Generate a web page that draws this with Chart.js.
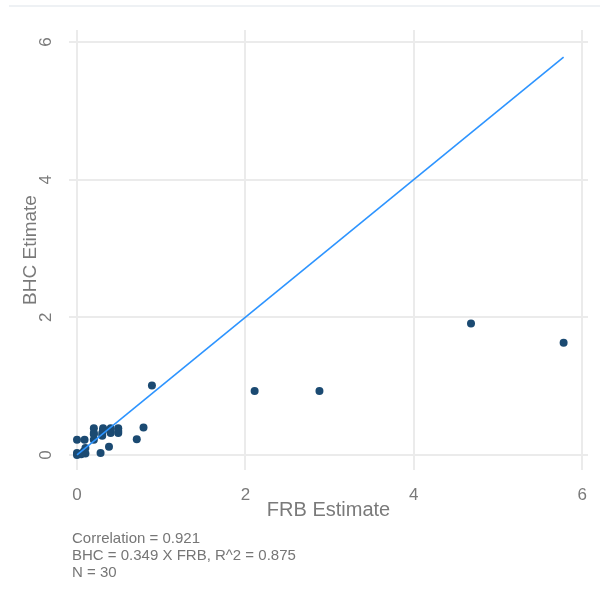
<!DOCTYPE html>
<html>
<head>
<meta charset="utf-8">
<script src="https://cdn.jsdelivr.net/npm/chart.js@4/dist/chart.umd.min.js"></script>
<style>
    body { margin: 0; background: #fff; }
    #wrap { position: relative; width: 602px; height: 601px; }
    #topRule { position: absolute; left: 9px; right: 2px; top: 5px; border-top: 2px solid #eef1f4; }
    #caption {
        position: absolute; left: 72px; top: 529px;
        font-family: "Liberation Sans", Arial, sans-serif;
        font-size: 15px; line-height: 17px; color: #767676;
    }
</style>
</head>
<body>
<div id="wrap">
    <div id="topRule"></div>
    <canvas id="scatterChart"></canvas>
    <div id="caption"></div>
</div>
<script>
'use strict'

// data
const frbValues = [5.78, 4.68, 2.88, 2.11, 0.89, 0.79, 0.71, 0.49, 0.49, 0.40,
                   0.38, 0.31, 0.30, 0.28, 0.20, 0.20, 0.20, 0.09, 0.00, 0.00,
                   0.08, 0.10, 0.00, 0.40, 0.30, 0.10, 0.05, 0.49, 0.20, 0.31];
const bhcValues = [1.63, 1.91, 0.93, 0.93, 1.01, 0.40, 0.23, 0.39, 0.32, 0.39,
                   0.12, 0.39, 0.32, 0.03, 0.39, 0.32, 0.22, 0.22, 0.22, 0.03,
                   0.05, 0.02, 0.00, 0.32, 0.28, 0.10, 0.01, 0.35, 0.30, 0.36];
const lineX = [0, 5.78];
const lineY = [0, 5.78];
const tickValues = [0, 2, 4, 6];
const captionLines = ["Correlation = 0.921", "BHC = 0.349 X FRB, R^2 = 0.875", "N = 30"];

const textColor = "#7a7a7a";
const gridColor = "#ebebeb";

document.getElementById("caption").innerHTML = captionLines.join("<br>");

const points = frbValues.map((x, i) => ({ x: x, y: bhcValues[i] }));
const linePoints = lineX.map((x, i) => ({ x: x, y: lineY[i] }));

// y tick labels are rotated like the axis title
const rotatedYTicks = {
    id: "rotatedYTicks",
    afterDraw(chart) {
        const yScale = chart.scales.y;
        const ctx = chart.ctx;
        ctx.save();
        ctx.fillStyle = textColor;
        ctx.font = "17px 'Liberation Sans', Arial, sans-serif";
        ctx.textAlign = "center";
        ctx.textBaseline = "middle";
        tickValues.forEach(v => {
            ctx.save();
            ctx.translate(yScale.right - 23, yScale.getPixelForValue(v));
            ctx.rotate(-Math.PI / 2);
            ctx.fillText(String(v), 0, 0);
            ctx.restore();
        });
        ctx.restore();
    }
};

const setTicks = (scale) => {
    scale.ticks = tickValues.map(v => ({ value: v }));
};

const config = {
    type: "scatter",
    data: {
        datasets: [
            {
                type: "line",
                data: linePoints,
                borderColor: "rgb(45,148,255)",
                borderWidth: 1.6,
                pointRadius: 0,
                fill: false
            },
            {
                data: points,
                backgroundColor: "#1b4a72",
                borderColor: "#1b4a72",
                pointRadius: 4,
                pointBorderWidth: 0
            }
        ]
    },
    options: {
        responsive: true,
        maintainAspectRatio: false,
        animation: false,
        layout: { padding: { left: 0, top: 30, right: 12, bottom: 71 } },
        plugins: {
            legend: { display: false },
            tooltip: { enabled: false }
        },
        scales: {
            x: {
                type: "linear",
                min: -0.095,
                max: 6.07,
                afterBuildTicks: setTicks,
                afterFit: (scale) => { scale.height = 60; },
                border: { display: false },
                grid: { color: gridColor, lineWidth: 2, drawTicks: false },
                ticks: {
                    color: textColor,
                    padding: 15,
                    maxRotation: 0,
                    font: { family: "'Liberation Sans', Arial, sans-serif", size: 17 }
                },
                title: {
                    display: true,
                    text: "FRB Estimate",
                    color: textColor,
                    padding: { top: 0, bottom: 8 },
                    font: { family: "'Liberation Sans', Arial, sans-serif", size: 20 }
                }
            },
            y: {
                type: "linear",
                min: -0.218,
                max: 6.174,
                afterBuildTicks: setTicks,
                afterFit: (scale) => { scale.width = 69; },
                border: { display: false },
                grid: { color: gridColor, lineWidth: 2, drawTicks: false },
                ticks: { display: false },
                title: {
                    display: true,
                    text: "BHC Etimate",
                    color: textColor,
                    padding: { top: 19, bottom: 0 },
                    font: { family: "'Liberation Sans', Arial, sans-serif", size: 19 }
                }
            }
        }
    },
    plugins: [rotatedYTicks]
};

new Chart(document.getElementById("scatterChart"), config);
</script>
</body>
</html>
